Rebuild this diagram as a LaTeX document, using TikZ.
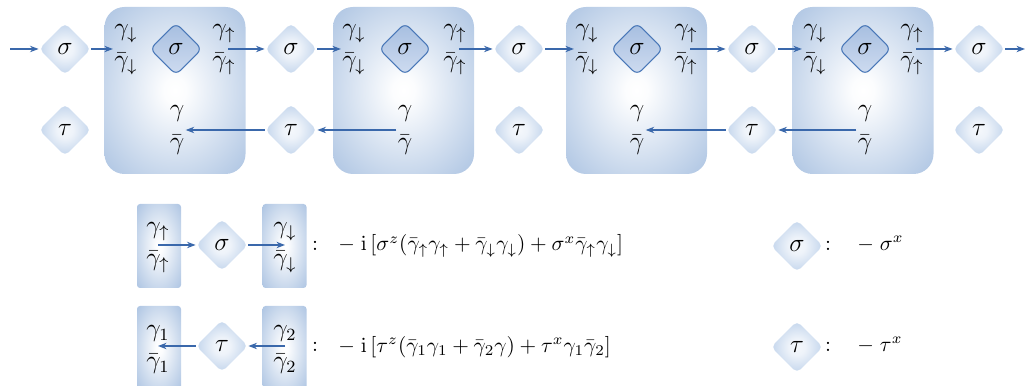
\documentclass[tikz,border=0pt]{standalone}
\usetikzlibrary{shapes.geometric,arrows.meta}
\definecolor{arr}{HTML}{3A68AB}
\definecolor{diaout}{HTML}{A9C3E4}
\definecolor{boxout}{HTML}{95B3DA}
\definecolor{idtop}{HTML}{A6BEE0}
\definecolor{idbot}{HTML}{CFDCF0}
\definecolor{idline}{HTML}{4A78B8}
\newdimen\px \px=0.468pt
\pgfdeclareradialshading{boxshade}{\pgfpoint{0bp}{0bp}}{color(0bp)=(white); color(4bp)=(white!97!boxout); color(40bp)=(boxout!88!white); color(56bp)=(boxout); color(72bp)=(boxout)}
\pgfdeclareradialshading{diashade}{\pgfpoint{0bp}{0bp}}{color(0bp)=(white!88!diaout); color(8bp)=(white!80!diaout); color(36bp)=(diaout); color(52bp)=(diaout)}
\begin{document}
\begin{tikzpicture}[x=\px,y=-\px,
  dia/.style={diamond, minimum width=52\px, minimum height=52\px, inner sep=0pt,
    rounded corners=5\px, shading=diashade, font=\large},
  idia/.style={diamond, minimum width=52\px, minimum height=52\px, inner sep=0pt,
    rounded corners=6\px, draw=idline, line width=0.5pt, top color=idtop, bottom color=idbot, font=\large},
  bigbox/.style={rectangle, rounded corners=20\px, minimum width=141\px, minimum height=167\px, shading=boxshade},
  smallbox/.style={rectangle, rounded corners=3\px, minimum width=44\px, minimum height=84\px, shading=boxshade},
  lab/.style={align=center, inner sep=0.5pt, font=\large},
  txt/.style={inner sep=0pt},
  con/.style={draw=arr, line width=0.6pt, -{Stealth[length=4pt,width=3pt]}},
]
\clip (0,0) rectangle (1025,386);

% big boxes
\node[bigbox] (b1) at (175,90.5) {};
\node[bigbox] (b2) at (403.5,90.5) {};
\node[bigbox] (b3) at (636.5,90.5) {};
\node[bigbox] (b4) at (863,90.5) {};

% inner sigma diamonds
\node[idia] (is1) at (176,49) {$\sigma$};
\node[idia] (is2) at (405,49) {$\sigma$};
\node[idia] (is3) at (637,49) {$\sigma$};
\node[idia] (is4) at (865,49) {$\sigma$};

% labels inside boxes
\node[lab] (b1in) at (126,50) {$\gamma_\downarrow$\\[1pt]$\bar\gamma_\downarrow$};
\node[lab] (b2in) at (354,50) {$\gamma_\downarrow$\\[1pt]$\bar\gamma_\downarrow$};
\node[lab] (b3in) at (587,50) {$\gamma_\downarrow$\\[1pt]$\bar\gamma_\downarrow$};
\node[lab] (b4in) at (815,50) {$\gamma_\downarrow$\\[1pt]$\bar\gamma_\downarrow$};
\node[lab] (b1out) at (224,50) {$\gamma_\uparrow$\\[1pt]$\bar\gamma_\uparrow$};
\node[lab] (b2out) at (455,50) {$\gamma_\uparrow$\\[1pt]$\bar\gamma_\uparrow$};
\node[lab] (b3out) at (686,50) {$\gamma_\uparrow$\\[1pt]$\bar\gamma_\uparrow$};
\node[lab] (b4out) at (912,50) {$\gamma_\uparrow$\\[1pt]$\bar\gamma_\uparrow$};
\node[lab] (b1g) at (177,130) {$\gamma$\\[1pt]$\bar\gamma$};
\node[lab] (b2g) at (405,130) {$\gamma$\\[1pt]$\bar\gamma$};
\node[lab] (b3g) at (637,130) {$\gamma$\\[1pt]$\bar\gamma$};
\node[lab] (b4g) at (865,130) {$\gamma$\\[1pt]$\bar\gamma$};

% outer diamonds
\node[dia] (s1) at (65,49) {$\sigma$};
\node[dia] (s2) at (291,49) {$\sigma$};
\node[dia] (s3) at (519,49) {$\sigma$};
\node[dia] (s4) at (752,49) {$\sigma$};
\node[dia] (s5) at (979,49) {$\sigma$};
\node[dia] (t1) at (65,130) {$\tau$};
\node[dia] (t2) at (291,130) {$\tau$};
\node[dia] (t3) at (519,130) {$\tau$};
\node[dia] (t4) at (752,130) {$\tau$};
\node[dia] (t5) at (979,130) {$\tau$};

\coordinate (inp) at (10,49);
\coordinate (outp) at (1025,49);

% top chain
\draw[con] (inp) -- (s1.west);
\draw[con] (s1.east) -- (b1in.west |- s1.east);
\draw[con] ([xshift=2pt]b1out.center |- s1.east) -- (s2.west);
\draw[con] (s2.east) -- (b2in.west |- s2.east);
\draw[con] ([xshift=2pt]b2out.center |- s2.east) -- (s3.west);
\draw[con] (s3.east) -- (b3in.west |- s3.east);
\draw[con] ([xshift=2pt]b3out.center |- s3.east) -- (s4.west);
\draw[con] (s4.east) -- (b4in.west |- s4.east);
\draw[con] ([xshift=2pt]b4out.center |- s4.east) -- (s5.west);
\draw[con] (s5.east) -- (outp);

% bottom chain
\draw[con] (b2g.west |- t2.east) -- (t2.east);
\draw[con] (t2.west) -- (b1g.east |- t2.west);
\draw[con] (b4g.west |- t4.east) -- (t4.east);
\draw[con] (t4.west) -- (b3g.east |- t4.west);

% legend row 1
\node[smallbox] (lb1) at (159,246) {};
\node[smallbox] (rb1) at (284.5,246) {};
\node[lab] (lb1t) at (158,247.5) {$\gamma_\uparrow$\\[1pt]$\bar\gamma_\uparrow$};
\node[lab] (rb1t) at (285,247.5) {$\gamma_\downarrow$\\[1pt]$\bar\gamma_\downarrow$};
\node[dia] (ls) at (222,245) {$\sigma$};
\draw[con] (lb1t.center |- ls.west) -- (ls.west);
\draw[con] (ls.east) -- (rb1t.center |- ls.east);
\node[txt] (c1) at (315,246) {$:$};
\node[txt, anchor=west] (f1) at (338,246) {$-\;\mathrm{i}\,[\sigma^z(\bar\gamma_\uparrow\gamma_\uparrow+\bar\gamma_\downarrow\gamma_\downarrow)+\sigma^x\bar\gamma_\uparrow\gamma_\downarrow]$};

% legend row 2
\node[smallbox] (lb2) at (159,348) {};
\node[smallbox] (rb2) at (284.5,348) {};
\node[lab] (lb2t) at (158,349.5) {$\gamma_1$\\[1pt]$\bar\gamma_1$};
\node[lab] (rb2t) at (285,349.5) {$\gamma_2$\\[1pt]$\bar\gamma_2$};
\node[dia] (lt) at (222,346) {$\tau$};
\draw[con] (rb2t.center |- lt.east) -- (lt.east);
\draw[con] (lt.west) -- (lb2t.center |- lt.west);
\node[txt] (c2) at (315,347) {$:$};
\node[txt, anchor=west] (f2) at (338,347) {$-\;\mathrm{i}\,[\tau^z(\bar\gamma_1\gamma_1+\bar\gamma_2\gamma)+\tau^x\gamma_1\bar\gamma_2]$};

% right legend
\node[dia] (rs) at (797,246) {$\sigma$};
\node[txt] (c3) at (828,246) {$:$};
\node[txt, anchor=west] (f3) at (857,244) {$-\;\sigma^x$};
\node[dia] (rt) at (797,347) {$\tau$};
\node[txt] (c4) at (828,347) {$:$};
\node[txt, anchor=west] (f4) at (857,345) {$-\;\tau^x$};
\end{tikzpicture}
\end{document}
